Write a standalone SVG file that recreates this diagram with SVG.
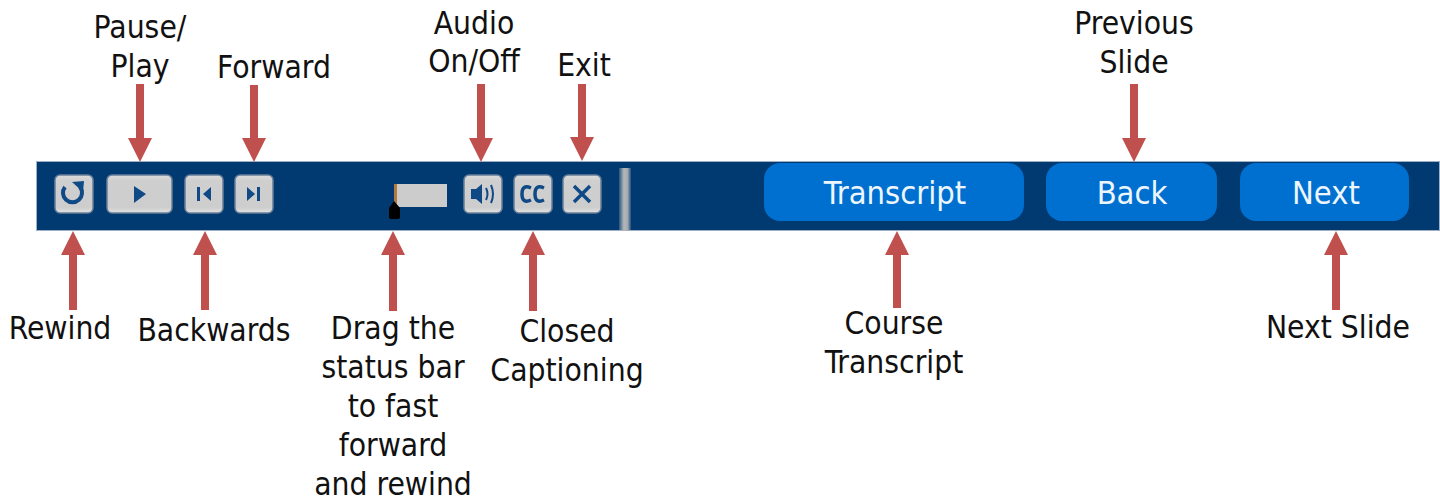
<svg xmlns="http://www.w3.org/2000/svg" width="1440" height="498" viewBox="0 0 1440 498">
<defs>
<marker id="ah" markerUnits="userSpaceOnUse" markerWidth="24" markerHeight="24" refX="0" refY="12" orient="auto"><path d="M0 0L24 12L0 24Z" fill="#c0504d"/></marker>
<linearGradient id="btn" x1="0" y1="0" x2="0" y2="1"><stop offset="0" stop-color="#dcdcdc"/><stop offset=".15" stop-color="#cfcfcf"/><stop offset=".85" stop-color="#cdcdcd"/><stop offset="1" stop-color="#e2e2e2"/></linearGradient>
<linearGradient id="sep" x1="0" y1="0" x2="1" y2="0"><stop offset="0" stop-color="#a9adb2" stop-opacity=".25"/><stop offset=".4" stop-color="#b4b6b8"/><stop offset=".7" stop-color="#a9adb2"/><stop offset="1" stop-color="#a9adb2" stop-opacity=".2"/></linearGradient>
</defs>
<style>
text{font-family:"DejaVu Sans",sans-serif;font-stretch:condensed;font-size:31.500px;fill:#111;text-anchor:middle}
.c{stroke:#c0504d;stroke-width:8;fill:none;marker-end:url(#ah)}
.b{fill:url(#btn);stroke:#6a7f99;stroke-width:1.5}
.i{fill:#0f4a86}
.is{fill:none;stroke:#0f4a86}
.bl{fill:#0070d0}
.w{fill:#eef6fd;font-size:32.400px}
</style>
<g id="toolbar">
<rect x="36.500" y="161.500" width="1403" height="69" fill="#003a70" stroke="#9fb0c2"/>
<rect x="619" y="168" width="12" height="63" fill="url(#sep)"/>
</g>
<g id="rewind"><rect class="b" x="55" y="175" width="38" height="38" rx="5"/><path class="is" stroke-width="4" d="M65 187A9.500 9.500 0 1 0 80 187"/><path class="i" d="M72 182L84 181L83 192Z"/></g>
<g id="play"><rect class="b" x="107" y="175" width="65" height="38" rx="5"/><path class="i" d="M134 186L146 194L134 203Z"/></g>
<g id="back"><rect class="b" x="185" y="175" width="38" height="38" rx="5"/><rect class="i" x="197" y="187" width="3" height="14"/><path class="i" d="M211 187V201L203 194Z"/></g>
<g id="forward"><rect class="b" x="235" y="175" width="38" height="38" rx="5"/><path class="i" d="M247 187V201L255 194Z"/><rect class="i" x="257" y="187" width="3" height="14"/></g>
<g id="status"><rect x="395" y="184" width="52" height="23" fill="#cccccc"/><rect x="394" y="184" width="3" height="23" fill="#b5783f"/><path d="M394 201L400 208V217Q400 219 397 219H391Q389 219 389 217V208Z" fill="#000"/></g>
<g id="audio"><rect class="b" x="464" y="175" width="38" height="38" rx="5"/><path class="i" d="M471 189H476L482 184V204L476 199H471Z"/><path class="is" stroke-width="2" d="M486 188Q489 194 486 200M491 185Q495 194 491 203"/></g>
<g id="cc"><rect class="b" x="514" y="175" width="38" height="38" rx="5"/><path class="is" stroke-width="3.500" d="M531 188Q522 184 522 194Q522 204 531 200M544 188Q535 184 535 194Q535 204 544 200"/></g>
<g id="exit"><rect class="b" x="563" y="175" width="38" height="38" rx="5"/><path class="is" stroke-width="3.500" d="M574 186L590 202M590 186L574 202"/></g>
<g id="transcript"><rect class="bl" x="764" y="163" width="260" height="58" rx="16"/><text class="w" x="895" y="204">Transcript</text></g>
<g id="backbtn"><rect class="bl" x="1046" y="163" width="171" height="58" rx="16"/><text class="w" x="1132" y="204">Back</text></g>
<g id="next"><rect class="bl" x="1240" y="163" width="169" height="58" rx="16"/><text class="w" x="1326" y="204">Next</text></g>
<g id="connectors">
<path class="c" d="M140 84V138"/><path class="c" d="M254 85V138"/><path class="c" d="M481 84V138"/><path class="c" d="M582 84V137"/><path class="c" d="M1134 84V138"/>
<path class="c" d="M73 310V255"/><path class="c" d="M205 310V255"/><path class="c" d="M393 311V255"/><path class="c" d="M533 311V255"/><path class="c" d="M897 308V255"/><path class="c" d="M1336 310V255"/>
</g>
<g id="labels">
<text x="140" y="38">Pause/</text><text x="140" y="77">Play</text>
<text x="274" y="78">Forward</text>
<text x="474" y="34">Audio</text><text x="474" y="72">On/Off</text>
<text x="584" y="76">Exit</text>
<text x="1134" y="34">Previous</text><text x="1134" y="73">Slide</text>
<text x="60" y="339">Rewind</text>
<text x="214" y="341">Backwards</text>
<text x="393" y="339">Drag the</text><text x="393" y="378">status bar</text><text x="393" y="417">to fast</text><text x="393" y="456">forward</text><text x="393" y="495">and rewind</text>
<text x="567" y="342">Closed</text><text x="567" y="381">Captioning</text>
<text x="894" y="334">Course</text><text x="894" y="373">Transcript</text>
<text x="1338" y="338">Next Slide</text>
</g>
</svg>
